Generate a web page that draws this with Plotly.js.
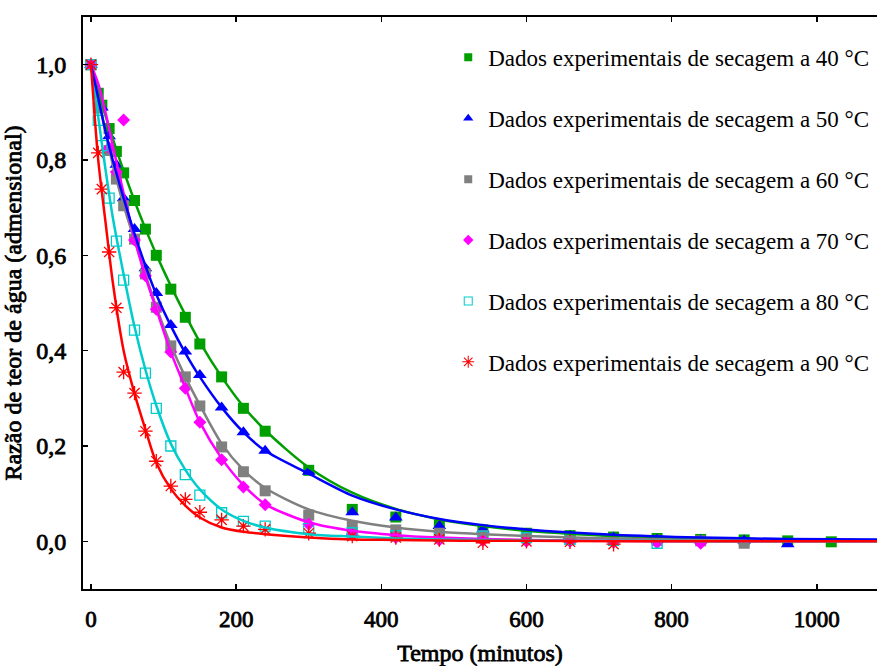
<!DOCTYPE html>
<html>
<head>
<meta charset="utf-8">
<script src="https://cdn.plot.ly/plotly-3.0.1.min.js"></script>
<style>
  html, body { margin: 0; padding: 0; background: #ffffff; }
  #grafico { width: 877px; height: 666px; }
  #grafico svg text { font-family: "Liberation Serif", "Times New Roman", serif !important; }
  /* rótulos dos eixos em negrito: traço preto sobre a fonte serifada regular */
  #grafico .xtick text, #grafico .ytick text,
  #grafico .xtitle, #grafico .ytitle {
    font-weight: 400 !important;
    stroke: #000000;
    stroke-width: 0.8px;
    paint-order: fill;
  }
</style>
</head>
<body>
<div id="grafico"></div>
<script>
// Tempos de secagem (minutos) dos pontos experimentais
const tempo = [0, 10, 15, 25, 35, 45, 60, 75, 90, 110, 130, 150, 180, 210, 240,
               300, 360, 420, 480, 540, 600, 660, 720, 780, 840, 900, 960, 1020];

// Razão de teor de água observada em cada temperatura
const mr40 = [1.000, 0.940, 0.915, 0.866, 0.818, 0.773, 0.715, 0.655, 0.600, 0.529, 0.470, 0.414, 0.345, 0.279, 0.231,
              0.149, 0.067, 0.051, 0.034, 0.024, 0.017, 0.012, 0.009, 0.006, 0.004, 0.003, 0.001, -0.001];
const mr50 = [1.000, null, 0.910, 0.850, 0.790, 0.720, 0.655, 0.573, 0.521, 0.454, 0.398, 0.349, 0.281, 0.229, 0.190,
              0.146, 0.061, 0.050, 0.032, 0.025, 0.016, 0.011, 0.008, 0.004, 0.003, 0.002, -0.006, null];
const mr60 = [1.000, 0.909, null, 0.820, 0.760, 0.704, 0.634, 0.561, 0.491, 0.410, 0.345, 0.284, 0.198, 0.146, 0.106,
              0.055, 0.032, 0.024, 0.017, 0.012, 0.008, 0.005, 0.003, 0.002, 0.001, -0.004, null, null];
const mr70 = [1.000, null, null, 0.825, 0.775, 0.884, 0.632, 0.557, 0.487, 0.397, 0.321, 0.250, 0.171, 0.114, 0.077,
              0.036, 0.015, 0.008, 0.003, 0.002, 0.000, 0.000, -0.002, -0.003, -0.004, null, null, null];
const mr80 = [1.000, 0.883, 0.830, 0.720, 0.630, 0.548, 0.443, 0.353, 0.279, 0.200, 0.140, 0.097, 0.060, 0.042, 0.032,
              0.027, 0.018, 0.012, 0.010, 0.011, 0.008, 0.004, 0.002, -0.004, null, null, null, null];
const mr90 = [1.000, 0.815, 0.739, 0.607, 0.490, 0.355, 0.311, 0.231, 0.168, 0.116, 0.088, 0.061, 0.045, 0.032, 0.025,
              0.017, 0.011, 0.008, 0.004, -0.003, 0.000, -0.001, -0.006, null, null, null, null, null];

// Curvas do modelo ajustado, amostradas ao longo do tempo
const tempoModelo = [0, 10, 20, 30, 45, 60, 75, 90, 110, 130, 150, 180, 210, 240,
                     300, 360, 420, 480, 540, 600, 720, 840, 960, 1083];
const ajuste40 = [1.000, 0.945, 0.893, 0.845, 0.777, 0.714, 0.656, 0.602, 0.536, 0.475, 0.418, 0.345, 0.283, 0.233,
                  0.155, 0.102, 0.068, 0.046, 0.032, 0.022, 0.011, 0.006, 0.003, 0.002];
const ajuste50 = [1.000, 0.930, 0.860, 0.800, 0.720, 0.645, 0.578, 0.518, 0.452, 0.395, 0.345, 0.281, 0.229, 0.190,
                  0.142, 0.096, 0.067, 0.047, 0.034, 0.025, 0.014, 0.008, 0.005, 0.004];
const ajuste60 = [1.000, 0.930, 0.860, 0.790, 0.705, 0.632, 0.560, 0.492, 0.412, 0.345, 0.286, 0.205, 0.150, 0.112,
                  0.067, 0.043, 0.029, 0.020, 0.015, 0.011, 0.006, 0.003, 0.002, 0.001];
const ajuste70 = [1.000, 0.960, 0.900, 0.830, 0.730, 0.635, 0.555, 0.487, 0.397, 0.322, 0.250, 0.174, 0.118, 0.078,
                  0.040, 0.022, 0.013, 0.008, 0.005, 0.003, 0.001, 0.000, 0.000, 0.000];
const ajuste80 = [1.000, 0.890, 0.780, 0.680, 0.560, 0.450, 0.360, 0.285, 0.205, 0.150, 0.109, 0.067, 0.043, 0.029,
                  0.015, 0.010, 0.006, 0.004, 0.003, 0.002, 0.001, 0.000, 0.000, 0.000];
const ajuste90 = [1.000, 0.800, 0.670, 0.544, 0.400, 0.310, 0.235, 0.165, 0.110, 0.075, 0.050, 0.029, 0.020, 0.015,
                  0.008, 0.004, 0.003, 0.002, 0.001, 0.001, 0.000, 0.000, 0.000, 0.000];

const rotulos = [
  'Dados experimentais de secagem a 40 °C',
  'Dados experimentais de secagem a 50 °C',
  'Dados experimentais de secagem a 60 °C',
  'Dados experimentais de secagem a 70 °C',
  'Dados experimentais de secagem a 80 °C',
  'Dados experimentais de secagem a 90 °C'
];

const cores = ['#009f00', '#0000ff', '#808080', '#ff00ff', '#00cccc', '#ff0000'];
const simbolos = ['square', 'triangle-up', 'square', 'diamond', 'square-open', 'asterisk-open'];
const tamanhos = [11, 12, 11, 10, 10, 12];
const tamanhosLegenda = [8, 9, 8, 8, 8, 10];
const observados = [mr40, mr50, mr60, mr70, mr80, mr90];
const ajustes = [ajuste40, ajuste50, ajuste60, ajuste70, ajuste80, ajuste90];

function contorno(i) {
  return simbolos[i].endsWith('open') ? 1.3 : 0;
}

const traces = [];
observados.forEach((serie, i) => {
  traces.push({
    type: 'scatter',
    mode: 'markers',
    x: tempo,
    y: serie,
    name: rotulos[i],
    showlegend: false,
    marker: {
      symbol: simbolos[i],
      size: tamanhos[i],
      color: cores[i],
      line: { color: cores[i], width: contorno(i) }
    }
  });
});

// ordem de desenho das curvas: vermelho e azul por cima
[0, 2, 3, 4, 1, 5].forEach(i => {
  traces.push({
    type: 'scatter',
    mode: 'lines',
    x: tempoModelo,
    y: ajustes[i],
    showlegend: false,
    line: { color: cores[i], width: 2.5, shape: 'spline', smoothing: 0.8 }
  });
});

// entradas da legenda com marcadores menores
rotulos.forEach((rotulo, i) => {
  traces.push({
    type: 'scatter',
    mode: 'markers',
    x: [null],
    y: [null],
    name: rotulo,
    legendgroup: 'g' + i,
    marker: {
      symbol: simbolos[i],
      size: tamanhosLegenda[i],
      color: cores[i],
      line: { color: cores[i], width: contorno(i) * 0.8 }
    }
  });
});

const fonteSerif = 'Liberation Serif';

const layout = {
  width: 877,
  height: 666,
  margin: { l: 83, r: 0, t: 17, b: 77 },
  paper_bgcolor: '#ffffff',
  plot_bgcolor: '#ffffff',
  font: { family: fonteSerif, color: '#000000' },
  showlegend: true,
  legend: {
    x: 0.46, xanchor: 'left',
    y: 0.967, yanchor: 'top',
    bgcolor: 'rgba(0,0,0,0)',
    font: { family: fonteSerif, size: 23, color: '#000000' },
    tracegroupgap: 28,
    itemsizing: 'trace'
  },
  xaxis: {
    range: [-11, 1083],
    tickvals: [0, 200, 400, 600, 800, 1000],
    ticks: 'inside',
    ticklen: 5,
    tickwidth: 1.5,
    tickcolor: '#000000',
    showline: true,
    linecolor: '#000000',
    linewidth: 2,
    mirror: 'ticks',
    showgrid: false,
    zeroline: false,
    ticklabelstandoff: 8,
    tickfont: { family: fonteSerif, size: 23 },
    title: { text: 'Tempo (minutos)', standoff: 22, font: { family: fonteSerif, size: 24 } }
  },
  yaxis: {
    range: [-0.1, 1.1],
    tickvals: [0, 0.2, 0.4, 0.6, 0.8, 1.0],
    tickformat: '.1f',
    ticks: 'inside',
    ticklen: 5,
    tickwidth: 1.5,
    tickcolor: '#000000',
    showline: true,
    linecolor: '#000000',
    linewidth: 2,
    showgrid: false,
    zeroline: false,
    ticklabelstandoff: 10,
    tickfont: { family: fonteSerif, size: 24 },
    title: { text: 'Razão de teor de água (admensional)', standoff: 14, font: { family: fonteSerif, size: 24 } }
  },
  separators: ',.'
};

Plotly.newPlot('grafico', traces, layout, { displayModeBar: false, staticPlot: true });
</script>
</body>
</html>
